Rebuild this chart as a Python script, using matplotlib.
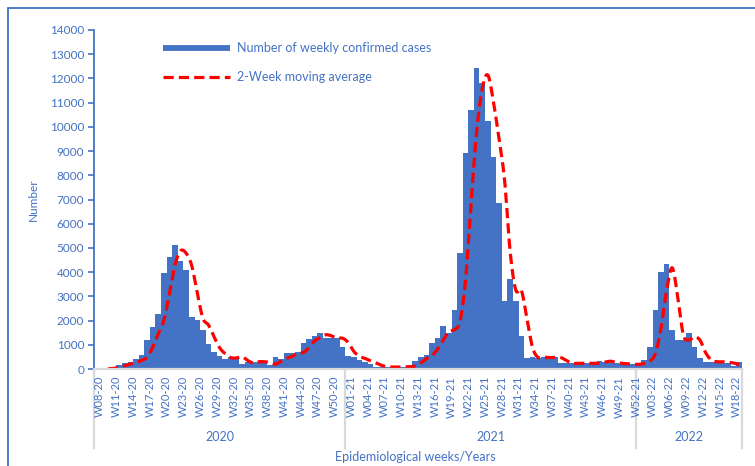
import numpy as np
import matplotlib
matplotlib.use("Agg")
import matplotlib.pyplot as plt
from matplotlib.lines import Line2D
from matplotlib.patches import Rectangle
import matplotlib.transforms as mtransforms

# week labels: W08-20 .. W52-20, W01-21 .. W52-21, W01-22 .. W19-22
weeks = ([f"W{w:02d}-20" for w in range(8, 53)] +
         [f"W{w:02d}-21" for w in range(1, 53)] +
         [f"W{w:02d}-22" for w in range(1, 20)])

years = ["2020", "2021", "2022"]
year_sizes = [45, 52, 19]

cases = [0, 10, 40, 100, 170, 240, 300, 400, 580, 1200,
         1720, 2270, 3950, 4640, 5120, 4440, 4090, 2160, 2020, 1610,
         1030, 715, 540, 400, 510, 510, 200, 300, 300, 300,
         235, 165, 480, 400, 650, 670, 690, 1090, 1230, 1360,
         1470, 1270, 1270, 1270, 920, 540, 510, 370, 300, 200,
         100, 80, 80, 80, 80, 100, 150, 345, 510, 580,
         1060, 1300, 1780, 1470, 2440, 4810, 8910, 10700, 12450, 11830,
         10260, 8750, 6850, 2820, 3700, 2810, 1350, 440, 510, 460,
         480, 480, 480, 235, 235, 235, 235, 235, 235, 235,
         340, 300, 235, 235, 195, 195, 195, 260, 370, 920,
         2440, 4020, 4340, 1610, 1200, 1200, 1470, 900, 440, 300,
         300, 300, 260, 235, 120, 300]

# 2-week moving average as drawn (starts at the third week)
moving_avg = [None, None, 5, 25, 70, 135, 205, 270, 350, 490,
              890, 1460, 1995, 3110, 4295, 4880, 4780, 4265, 3125, 2090,
              1815, 1320, 873, 628, 470, 455, 510, 355, 250, 300,
              300, 268, 200, 323, 440, 525, 660, 680, 890, 1160,
              1295, 1415, 1370, 1270, 1270, 1095, 730, 525, 440, 335,
              250, 150, 90, 80, 80, 80, 90, 125, 248, 428,
              545, 820, 1180, 1540, 1625, 1955, 3625, 6860, 9805, 11575,
              12140, 11045, 9505, 7800, 4835, 3260, 3255, 2080, 895, 475,
              485, 470, 480, 480, 358, 235, 235, 235, 235, 235,
              235, 288, 320, 268, 235, 215, 195, 195, 228, 315,
              645, 1680, 3230, 4180, 2975, 1405, 1200, 1335, 1185, 670,
              370, 300, 300, 280, 248, 178]

BLUE = "#4472C4"
TXT = "#4472C4"
GREY = "#D9D9D9"


def smooth(xs, ys, n=12):
    # Catmull-Rom curve through the points, like a smoothed line in a spreadsheet
    pts = np.column_stack([xs, ys]).astype(float)
    p = np.vstack([pts[0], pts, pts[-1]])
    out = []
    t = np.linspace(0, 1, n, endpoint=False)[:, None]
    for k in range(1, len(p) - 2):
        p0, p1, p2, p3 = p[k - 1], p[k], p[k + 1], p[k + 2]
        seg = 0.5 * (2 * p1 + (-p0 + p2) * t + (2 * p0 - 5 * p1 + 4 * p2 - p3) * t ** 2
                     + (-p0 + 3 * p1 - 3 * p2 + p3) * t ** 3)
        out.append(seg)
    out.append(pts[-1:])
    return np.vstack(out)


plt.rcParams['font.family'] = ['Lato', 'DejaVu Sans']

W, H = 755, 466
fig = plt.figure(figsize=(W / 100, H / 100), dpi=100)
ax = fig.add_axes([94 / W, 1 - 369 / H, (742 - 94) / W, (369 - 30) / H])

x = np.arange(len(weeks))
ax.bar(x, cases, width=1.0, color=BLUE, linewidth=0)

ma_x = [i for i, v in enumerate(moving_avg) if v is not None]
ma_y = [v for v in moving_avg if v is not None]
curve = smooth(ma_x, ma_y)
ax.plot(curve[:, 0], curve[:, 1], color="#FF0000", lw=2.3,
        dashes=(3.2, 1.6), dash_capstyle="butt")

ax.set_xlim(-0.5, len(weeks) - 0.5)
ax.set_ylim(0, 14000)
ax.set_yticks(range(0, 14001, 1000))
ax.tick_params(axis="y", colors=BLUE, labelcolor=TXT, labelsize=8.5,
               length=4, width=1.2, direction="out", pad=3)
ax.set_xticks(x[::3])
ax.set_xticklabels(weeks[::3], rotation=90, fontsize=8, color=TXT)
ax.tick_params(axis="x", length=0, pad=5)
shift = mtransforms.ScaledTranslation(3 / 100, 0, fig.dpi_scale_trans)
for lab in ax.get_xticklabels():
    lab.set_transform(lab.get_transform() + shift)

for s in ["top", "right"]:
    ax.spines[s].set_visible(False)
ax.spines["left"].set_color(BLUE)
ax.spines["left"].set_linewidth(1.3)
ax.spines["bottom"].set_color(GREY)
ax.spines["bottom"].set_linewidth(1.6)

# year group separators and labels under the axis
trans = mtransforms.blended_transform_factory(ax.transData, ax.transAxes)
edges = np.concatenate([[0], np.cumsum(year_sizes)]) - 0.5
for e in edges:
    ax.plot([e, e], [0, -(448 - 369) / 339], transform=trans, color=GREY,
            lw=1.6, clip_on=False, zorder=0.4)
for yr, a, b in zip(years, edges[:-1], edges[1:]):
    ax.text((a + b) / 2, -(437 - 369) / 339, yr, transform=trans,
            ha="center", va="center", fontsize=9, color=TXT)

fig.text(415 / W, 1 - 457 / H, "Epidemiological weeks/Years", ha="center",
         va="center", fontsize=9, color=TXT)
fig.text(33 / W, 1 - 200 / H, "Number", rotation=90, ha="center",
         va="center", fontsize=8.5, color=TXT)

# legend
fig.add_artist(Line2D([163 / W, 230 / W], [1 - 48 / H, 1 - 48 / H],
                      color=BLUE, lw=4.2, solid_capstyle="butt"))
fig.add_artist(Line2D([163 / W, 230 / W], [1 - 77 / H, 1 - 77 / H],
                      color="#FF0000", lw=2.3, dashes=(3.2, 1.6),
                      dash_capstyle="butt"))
fig.text(237 / W, 1 - 48 / H, "Number of weekly confirmed cases",
         va="center", fontsize=9, color=TXT)
fig.text(237 / W, 1 - 77 / H, "2-Week moving average",
         va="center", fontsize=9, color=TXT)

# outer frame
fig.add_artist(Rectangle((8 / W, -0.1), 1.2, 1.1 - 8 / H,
                         transform=fig.transFigure, fill=False,
                         edgecolor=BLUE, lw=1.3))

fig.savefig("out.png", dpi=100)
